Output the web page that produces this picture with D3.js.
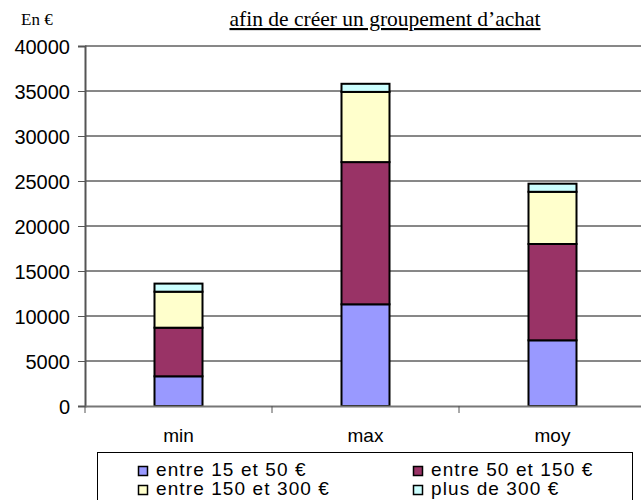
<!DOCTYPE html>
<meta charset="utf-8">
<style>
body { margin: 0; background: #fff; }
text { font-family: "Liberation Sans", Arial, sans-serif; }
.serif { font-family: "Liberation Serif", "Times New Roman", serif; }
</style>
<svg width="641" height="500"></svg>
<script src="https://d3js.org/d3.v7.min.js"></script>
<script>
var categories = ["min", "max", "moy"];
var seriesNames = ["entre 15 et 50 €", "entre 50 et 150 €", "entre 150 et 300 €", "plus de 300 €"];
var s1 = [3300, 11300, 7300];
var s2 = [5400, 15800, 10700];
var s3 = [4000, 7800, 5800];
var s4 = [900, 900, 900];
var yTicks = [0, 5000, 10000, 15000, 20000, 25000, 30000, 35000, 40000];
var colors = ["#9999FF", "#993366", "#FFFFCC", "#CCFFFF"];

var svg = d3.select("svg");
var plotLeft = 85, plotTop = 46, plotBottom = 406, band = 187;

var x = d3.scaleBand().domain(categories).range([plotLeft, plotLeft + band * 3]);
var y = d3.scaleLinear().domain([0, 40000]).range([plotBottom, plotTop]);

var rows = categories.map(function(c, i) {
  return {cat: c, a: s1[i], b: s2[i], c: s3[i], d: s4[i]};
});
var stack = d3.stack().keys(["a", "b", "c", "d"])(rows);

// gridlines
svg.append("g").selectAll("line").data(yTicks.slice(1)).enter().append("line")
  .attr("x1", plotLeft).attr("x2", 641)
  .attr("y1", function(d) { return y(d); }).attr("y2", function(d) { return y(d); })
  .attr("stroke", "#111").attr("stroke-width", 1);

// y axis
var yAxis = svg.append("g").attr("transform", "translate(" + plotLeft + ",0)")
  .call(d3.axisLeft(y).tickValues(yTicks).tickSize(7).tickPadding(8).tickFormat(d3.format("d")));
yAxis.select(".domain").attr("stroke", "#555").attr("stroke-width", 2);
yAxis.selectAll(".tick line").attr("stroke", "#555");
yAxis.selectAll("text").attr("font-size", 20).attr("fill", "#000").attr("dy", "0.36em");

// bars
var bw = 48;
svg.append("g").selectAll("g").data(stack).enter().append("g")
  .attr("fill", function(d, i) { return colors[i]; })
  .selectAll("rect").data(function(d) { return d; }).enter().append("rect")
  .attr("x", function(d) { return x(d.data.cat) + (band - bw) / 2; })
  .attr("width", bw)
  .attr("y", function(d) { return y(d[1]); })
  .attr("height", function(d) { return y(d[0]) - y(d[1]); })
  .attr("stroke", "#000").attr("stroke-width", 2);

// x axis
var xAxis = svg.append("g").attr("transform", "translate(0," + plotBottom + ")")
  .call(d3.axisBottom(x).tickSize(0).tickPadding(23));
xAxis.select(".domain").attr("stroke", "#777").attr("stroke-width", 2);
xAxis.selectAll("text").attr("font-size", 19).attr("fill", "#000");
svg.append("g").selectAll("line").data(categories).enter().append("line")
  .attr("x1", function(d) { return x(d); }).attr("x2", function(d) { return x(d); })
  .attr("y1", plotBottom).attr("y2", plotBottom + 7)
  .attr("stroke", "#555");

// titles
svg.append("text").attr("class", "serif").attr("x", 21).attr("y", 25)
  .attr("font-size", 17).text("En  €");
svg.append("text").attr("class", "serif").attr("x", 385).attr("y", 26)
  .attr("text-anchor", "middle").attr("font-size", 21.5)
  .attr("text-decoration", "underline").text("afin de créer un groupement d’achat");

// legend
var lg = svg.append("g");
lg.append("rect").attr("x", 97.5).attr("y", 452.5).attr("width", 535).attr("height", 60)
  .attr("fill", "#fff").attr("stroke", "#000").attr("stroke-width", 1);
var pos = [[138, 476], [413, 476], [138, 495], [413, 495]];
seriesNames.forEach(function(n, i) {
  lg.append("rect").attr("x", pos[i][0] + 0.5).attr("y", pos[i][1] - 9.5)
    .attr("width", 9).attr("height", 9)
    .attr("fill", colors[i]).attr("stroke", "#000").attr("stroke-width", 1.5);
  lg.append("text").attr("x", pos[i][0] + 18).attr("y", pos[i][1])
    .attr("font-size", 19).attr("letter-spacing", 1.1).text(n);
});
</script>
